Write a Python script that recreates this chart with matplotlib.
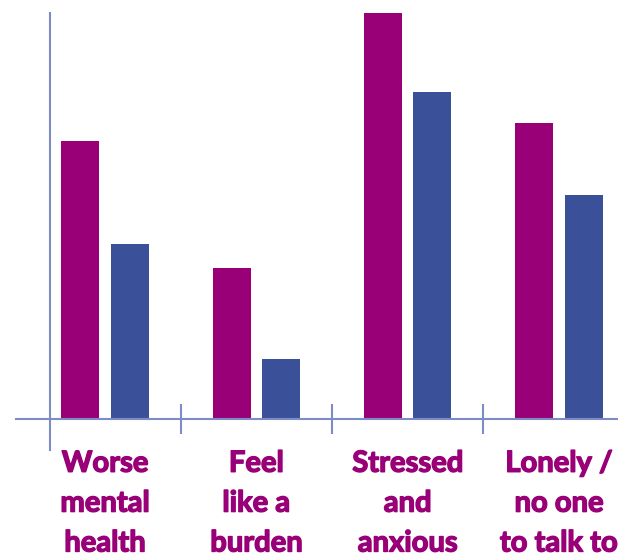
import matplotlib.pyplot as plt
import matplotlib.patheffects as pe
import numpy as np

# values (percent, roughly)
categories = ["Worse\nmental\nhealth", "Feel\nlike a\nburden",
              "Stressed\nand\nanxious", "Lonely /\nno one\nto talk to"]
series_a = [47.3, 25.7, 69.0, 50.3]   # magenta
series_b = [29.8, 10.2, 55.6, 38.1]   # blue

magenta = "#990077"
blue = "#3a5199"
axis_col = "#7d8cc4"

fig = plt.figure(figsize=(6.18, 5.56), dpi=100)
# axes covers the whole width, bottom at the lower end of the y-axis line
ax = fig.add_axes([0, 106 / 556, 1, 437 / 556])

x = np.arange(len(categories))
w = 0.251
off = 0.163
ax.bar(x - off, series_a, w, color=magenta)
ax.bar(x + off, series_b, w, color=blue)

ax.set_xlim(-0.694, 3.39)
ax.set_ylim(-5.3, 69.0)

for s in ["top", "right"]:
    ax.spines[s].set_visible(False)
ax.spines["left"].set_position(("data", -0.364))
ax.spines["bottom"].set_position(("data", 0))
ax.spines["bottom"].set_bounds(-0.59, 3.39)
for s in ["left", "bottom"]:
    ax.spines[s].set_color(axis_col)
    ax.spines[s].set_linewidth(1.5)

ax.set_yticks([])
ax.set_xticks(x)
labels = ax.set_xticklabels(categories, fontsize=21, fontweight="bold",
                            color=magenta, family="Lato", linespacing=1.66)
# thicken the strokes a bit, the original font is heavier
for t in labels:
    t.set_path_effects([pe.withStroke(linewidth=1.0, foreground=magenta)])
ax.tick_params(axis="x", which="major", length=0, pad=23)
ax.set_xticks(x[:-1] + 0.5, minor=True)
ax.tick_params(axis="x", which="minor", direction="inout", length=21,
               width=1.5, color=axis_col)

fig.savefig("out.png", dpi=100)
